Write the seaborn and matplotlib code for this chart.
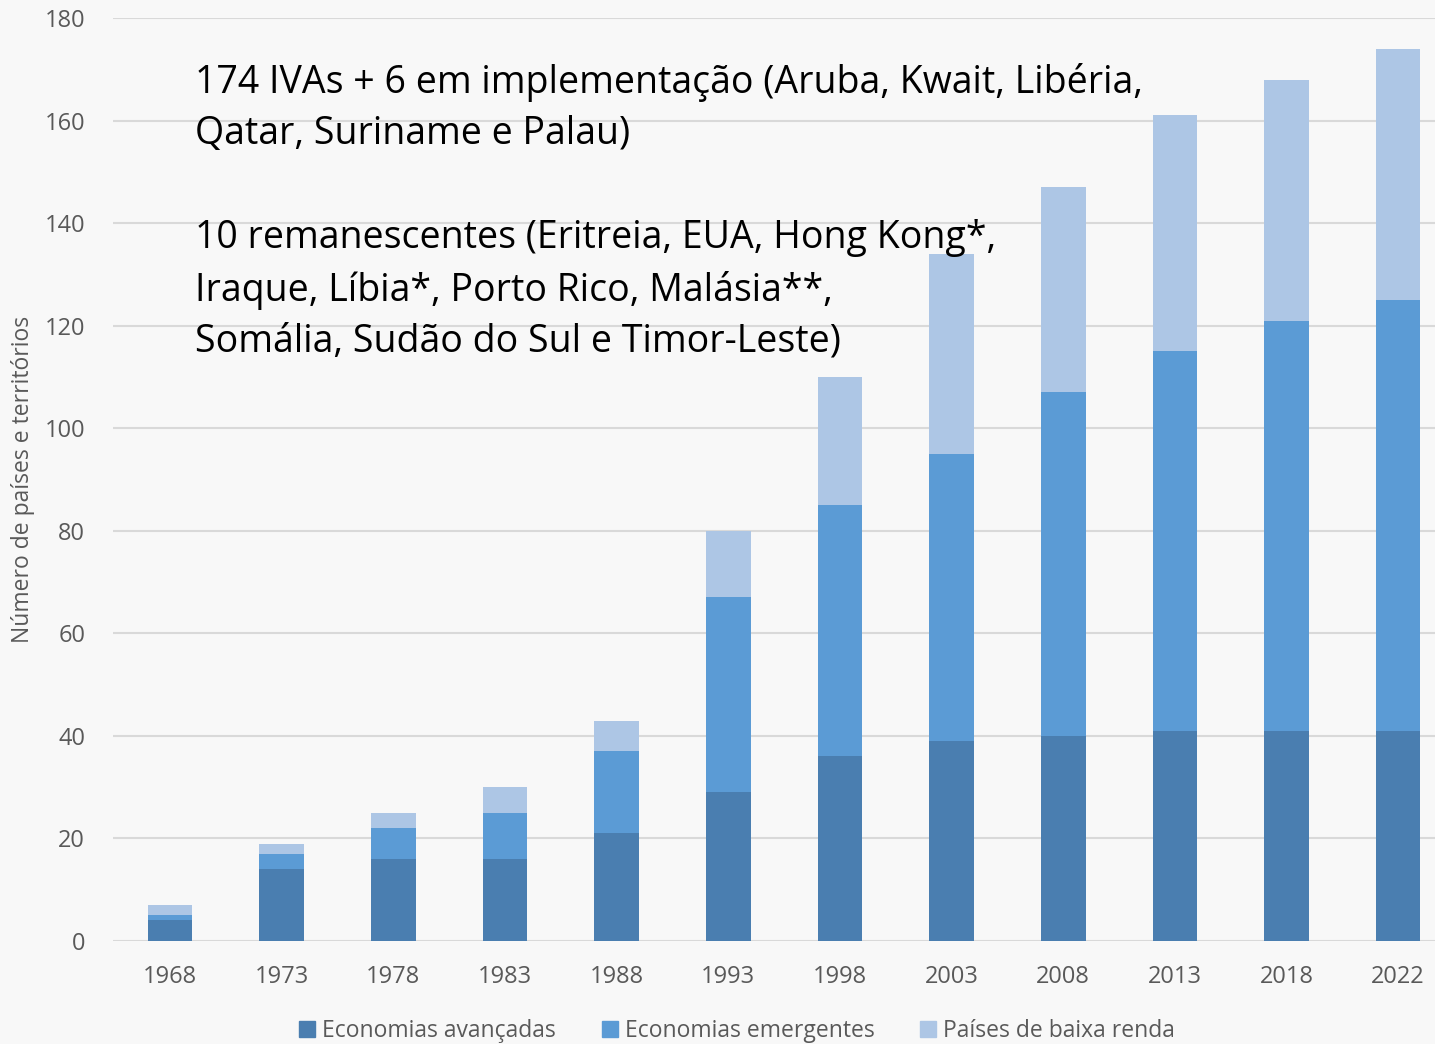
import pandas as pd
import seaborn as sns
import matplotlib.pyplot as plt
from matplotlib.patches import Patch

# Dados (número de países e territórios com IVA)
anos = ["1968", "1973", "1978", "1983", "1988", "1993", "1998", "2003", "2008", "2013", "2018", "2022"]
avancadas = [4, 14, 16, 16, 21, 29, 36, 39, 40, 41, 41, 41]
emergentes = [1, 3, 6, 9, 16, 38, 49, 56, 67, 74, 80, 84]
baixa_renda = [2, 2, 3, 5, 6, 13, 25, 39, 40, 46, 47, 49]

series = ["Economias avançadas", "Economias emergentes", "Países de baixa renda"]
cores = ["#4a7eb0", "#5b9bd5", "#adc6e5"]

df = pd.DataFrame({"ano": anos, "av": avancadas, "em": emergentes, "br": baixa_renda})
df["c1"] = df["av"]
df["c2"] = df["av"] + df["em"]
df["c3"] = df["c2"] + df["br"]

sns.set_style("white")
plt.rcParams["font.family"] = ["Open Sans", "DejaVu Sans"]

fig = plt.figure(figsize=(14.35, 10.44), dpi=100, facecolor="#f8f8f8")
ax = fig.add_axes([113 / 1435, 1 - 941 / 1044, 1 - 113 / 1435, (941 - 18) / 1044])
ax.set_facecolor("none")

# Barras empilhadas: desenha o total acumulado primeiro
for col, cor in zip(["c3", "c2", "c1"], cores[::-1]):
    sns.barplot(data=df, x="ano", y=col, order=anos, color=cor, width=0.4,
                saturation=1, linewidth=0, ax=ax, zorder=3)

ax.set_ylim(0, 180)
ax.set_xlim(-0.51, 11.33)
ax.set_yticks(range(0, 181, 20))
ax.yaxis.grid(True, color="#d9d9d9", linewidth=1.5, zorder=0)
ax.set_axisbelow(True)
for s in ax.spines.values():
    s.set_visible(False)
ax.tick_params(axis="both", length=0, labelsize=17, labelcolor="#595959")
ax.tick_params(axis="x", pad=17)
ax.tick_params(axis="y", pad=20)
ax.set_xlabel("")
ax.set_ylabel("Número de países e territórios", fontsize=16.5, color="#595959")
ax.yaxis.set_label_coords(-0.059, 0.5)

fig.text(195 / 1435, 1 - 108 / 1044,
         "174 IVAs + 6 em implementação (Aruba, Kwait, Libéria,\nQatar, Suriname e Palau)",
         fontsize=27, color="black", va="center", linespacing=1.45)
fig.text(195 / 1435, 1 - 290 / 1044,
         "10 remanescentes (Eritreia, EUA, Hong Kong*,\nIraque, Líbia*, Porto Rico, Malásia**,\nSomália, Sudão do Sul e Timor-Leste)",
         fontsize=27, color="black", va="center", linespacing=1.45)

handles = [Patch(color=c, label=l) for c, l in zip(cores, series)]
fig.legend(handles=handles, loc="center", bbox_to_anchor=(737 / 1435, 1 - 1031 / 1044),
           ncol=3, frameon=False, fontsize=16.5, handlelength=0.7, handleheight=0.7,
           handletextpad=0.3, columnspacing=2.0, labelcolor="#595959")

fig.savefig("out.png", dpi=100, facecolor=fig.get_facecolor())
